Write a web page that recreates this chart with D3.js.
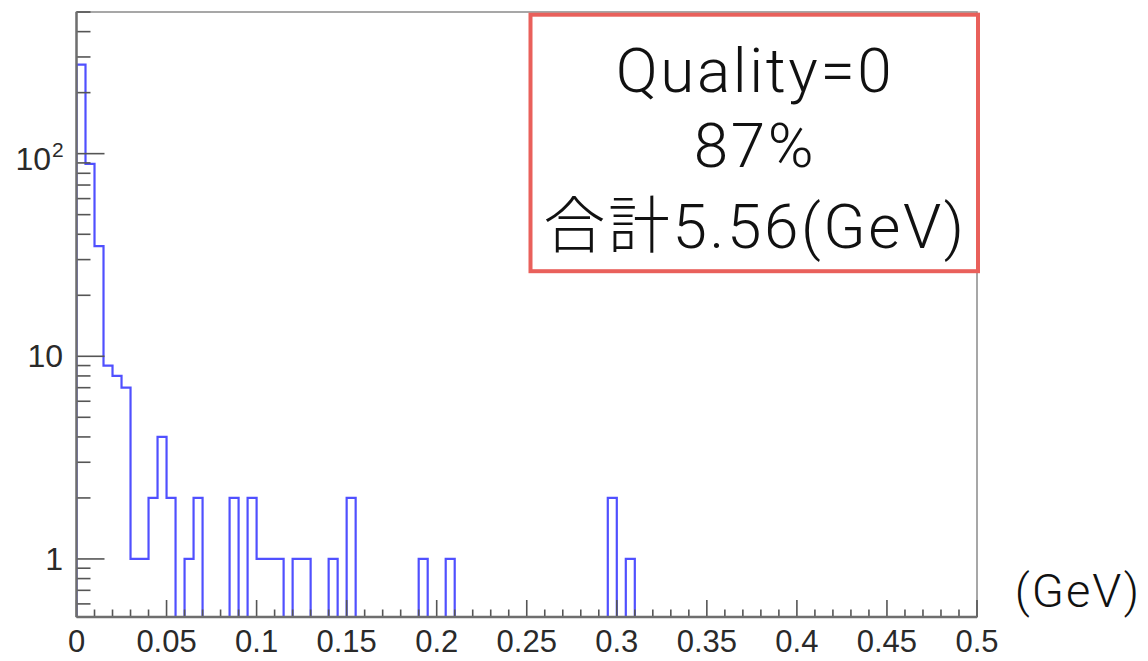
<!DOCTYPE html>
<html>
<head>
<meta charset="utf-8">
<script src="https://cdn.jsdelivr.net/npm/d3@7"></script>
<style>
  html, body { margin: 0; padding: 0; background: #fff; }
  svg { display: block; }
</style>
</head>
<body>
<svg id="chart" width="1148" height="661"></svg>
<script>
// Histogram contents: entries per 0.005 GeV bin, starting at 0 GeV
const binWidth = 0.005;
const counts = [
  275, 89, 35, 9, 8, 7, 1, 1, 2, 4,
  2, 0, 1, 2, 0, 0, 0, 2, 0, 2,
  1, 1, 1, 0, 1, 1, 0, 0, 1, 0,
  2, 0, 0, 0, 0, 0, 0, 0, 1, 0,
  0, 1, 0, 0, 0, 0, 0, 0, 0, 0,
  0, 0, 0, 0, 0, 0, 0, 0, 0, 2,
  0, 1
];

// Axis ticks and labels
const xTickValues = [0, 0.05, 0.1, 0.15, 0.2, 0.25, 0.3, 0.35, 0.4, 0.45, 0.5];
const xTickLabels = ["0", "0.05", "0.1", "0.15", "0.2", "0.25", "0.3", "0.35", "0.4", "0.45", "0.5"];
const yTickValues = [1, 10, 100];
const yTickBase = ["1", "10", "10"];
const yTickSup = ["", "", "2"];
const xUnit = "(GeV)";

// Statistics box text
const boxLines = ["Quality=0", "87%", "合計5.56(GeV)"];

(function () {
  const svg = d3.select("#chart");
  const L = 76.5, R = 977, T = 12, B = 617;

  const x = d3.scaleLinear().domain([0, 0.5]).range([L, R]);
  const y = d3.scaleLog().domain([0.517, 500]).range([B, T]);

  const axisColor = "#6e6e6e";
  const labelFont = "'Liberation Sans', Arial, Helvetica, sans-serif";

  // Frame
  svg.append("rect")
    .attr("x", L).attr("y", T)
    .attr("width", R - L).attr("height", B - T)
    .attr("fill", "none").attr("stroke", "#8a8a8a").attr("stroke-width", 1.5);

  // Histogram outline (empty bins are left undrawn on the log scale)
  const path = d3.path();
  let penDown = false;
  counts.forEach((c, i) => {
    const x0 = x(i * binWidth), x1 = x((i + 1) * binWidth);
    if (c > 0) {
      if (!penDown) path.moveTo(x0, B);
      path.lineTo(x0, y(c));
      path.lineTo(x1, y(c));
      penDown = true;
    } else if (penDown) {
      path.lineTo(x0, B);
      penDown = false;
    }
  });
  if (penDown) path.lineTo(x(counts.length * binWidth), B);

  svg.append("defs").append("clipPath").attr("id", "plotclip")
    .append("rect").attr("x", L).attr("y", T)
    .attr("width", R - L).attr("height", B - T);

  svg.append("path")
    .attr("d", path.toString())
    .attr("clip-path", "url(#plotclip)")
    .attr("fill", "none")
    .attr("stroke", "#5050ff")
    .attr("stroke-width", 2.2)
    .attr("stroke-linejoin", "miter");

  // X axis: ticks pointing up into the frame
  const xAxis = svg.append("g");
  const xMinor = d3.range(0, 51).map(k => k / 100);
  xAxis.selectAll("line.minor").data(xMinor).enter().append("line")
    .attr("x1", d => x(d)).attr("x2", d => x(d))
    .attr("y1", B).attr("y2", (d, i) => B - (i % 5 === 0 ? 17 : 7.5))
    .attr("stroke", "#555").attr("stroke-width", 1.6);
  xAxis.append("line")
    .attr("x1", L).attr("x2", R).attr("y1", B).attr("y2", B)
    .attr("stroke", axisColor).attr("stroke-width", 2.4);
  xAxis.selectAll("text").data(xTickValues).enter().append("text")
    .attr("x", d => x(d)).attr("y", 652)
    .attr("text-anchor", "middle")
    .attr("font-family", labelFont).attr("font-size", 31)
    .attr("fill", "#2a2a2a")
    .text((d, i) => xTickLabels[i]);

  // Y axis: log ticks pointing right into the frame
  const yAxis = svg.append("g");
  const yAll = y.ticks();
  yAxis.selectAll("line.tick").data(yAll).enter().append("line")
    .attr("y1", d => y(d)).attr("y2", d => y(d))
    .attr("x1", L)
    .attr("x2", d => L + (Math.abs(Math.log10(d) - Math.round(Math.log10(d))) < 1e-9 ? 28 : 14))
    .attr("stroke", "#555").attr("stroke-width", 1.6);
  yAxis.append("line")
    .attr("x1", L).attr("x2", L).attr("y1", T).attr("y2", B)
    .attr("stroke", axisColor).attr("stroke-width", 2.4);

  yAxis.selectAll("text.base").data(yTickValues).enter().append("text")
    .attr("x", (d, i) => yTickSup[i] ? 51 : 63)
    .attr("y", (d, i) => y(d) + (yTickSup[i] ? 16 : 11))
    .attr("text-anchor", "end")
    .attr("font-family", labelFont).attr("font-size", 32)
    .attr("fill", "#2a2a2a")
    .text((d, i) => yTickBase[i]);
  yAxis.selectAll("text.sup").data(yTickValues.filter((d, i) => yTickSup[i])).enter()
    .append("text")
    .attr("x", 52).attr("y", d => y(d) + 3)
    .attr("text-anchor", "start")
    .attr("font-family", labelFont).attr("font-size", 21)
    .attr("fill", "#2a2a2a")
    .text(d => yTickSup[yTickValues.indexOf(d)]);

  // Unit label to the right of the x axis
  svg.append("text")
    .attr("x", 1078).attr("y", 607)
    .attr("text-anchor", "middle")
    .attr("font-family", "Roboto, 'Liberation Sans', sans-serif")
    .attr("font-weight", 300)
    .attr("font-size", 47)
    .attr("letter-spacing", 2)
    .attr("fill", "#111")
    .text(xUnit);

  // Statistics box
  const box = svg.append("g");
  box.append("rect")
    .attr("x", 530.5).attr("y", 14.7)
    .attr("width", 447.5).attr("height", 256.5)
    .attr("fill", "#fff")
    .attr("stroke", "#e9605b").attr("stroke-width", 4);
  const baselines = [92, 167, 248];
  box.selectAll("text").data(boxLines).enter().append("text")
    .attr("x", 755).attr("y", (d, i) => baselines[i])
    .attr("text-anchor", "middle")
    .attr("font-family", "Roboto, 'Noto Sans CJK JP', sans-serif")
    .attr("font-weight", 300)
    .attr("font-size", 62)
    .attr("letter-spacing", 2.6)
    .attr("fill", "#111")
    .text(d => d);
})();
</script>
</body>
</html>
